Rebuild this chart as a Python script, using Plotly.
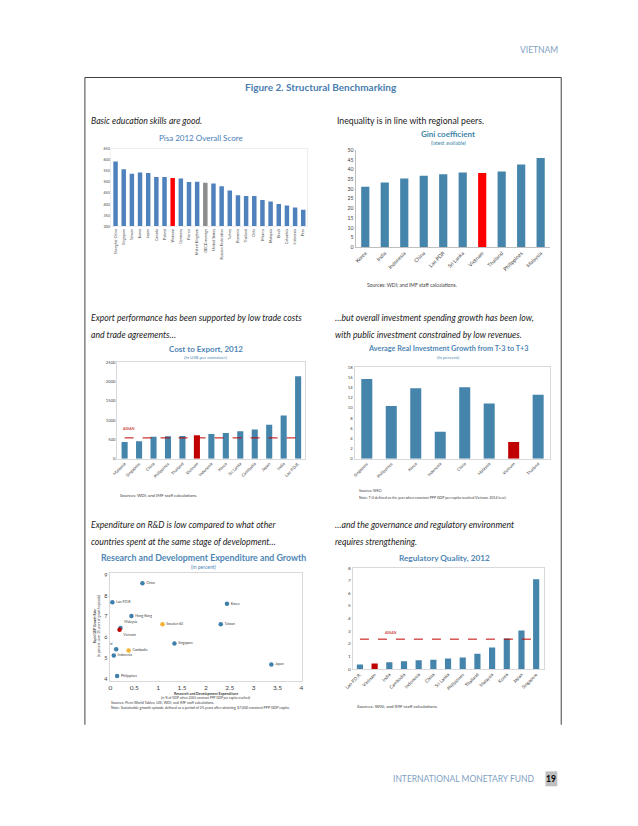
import plotly.graph_objects as go

W, H = 638, 826
OFF = 8                      # default body margin of the html page
FW, FH = W - OFF, H - OFF    # figure size so the page does not overflow
def px(x): return (x - OFF) / FW
def py(y): return 1 - (y - OFF) / FH

# ---------------- data ----------------
pisa_countries = ["Shanghai-China", "Singapore", "Taiwan", "Korea", "Japan", "Canada", "Poland",
                  "Vietnam", "Germany", "France", "United Kingdom", "OECD average", "United States",
                  "Russian Federation", "Turkey", "Romania", "Thailand", "Chile", "Mexico", "Malaysia",
                  "Brazil", "Colombia", "Indonesia", "Peru"]
pisa_scores = [593, 558, 538, 544, 541, 523, 523, 519, 517, 501, 502, 497, 494, 482, 462, 441,
               437, 437, 419, 413, 401, 394, 385, 375]
pisa_ticks = [300, 350, 400, 450, 500, 550, 600, 650]

gini_countries = ["Korea", "India", "Indonesia", "China", "Lao PDR", "Sri Lanka", "Vietnam",
                  "Thailand", "Philippines", "Malaysia"]
gini_values = [31.1, 33.3, 35.3, 36.7, 37.5, 38.4, 38.2, 38.9, 42.5, 45.9]

export_countries = ["Malaysia", "Singapore", "China", "Philippines", "Thailand", "Vietnam",
                    "Indonesia", "Korea", "Sri Lanka", "Cambodia", "Japan", "India", "Lao P.D.R."]
export_costs = [435, 456, 570, 580, 590, 610, 644, 665, 715, 755, 880, 1120, 2140]
export_asean = 540

inv_countries = ["Singapore", "Philippines", "Korea", "Indonesia", "China", "Malaysia",
                 "Vietnam", "Thailand"]
inv_growth = [15.7, 10.4, 13.9, 5.3, 14.1, 10.9, 3.3, 12.6]

rd_labels = ["China", "Lao P.D.R.", "Hong Kong", "Malaysia", "Vietnam", "Korea", "Taiwan",
             "Sweden 60", "Singapore", "Thailand", "Cambodia", "Indonesia", "Japan", "Philippines"]
rd_expenditure = [0.67, 0.04, 0.44, 0.21, 0.19, 2.44, 2.31, 1.09, 1.34, 0.12, 0.38, 0.07, 3.37, 0.14]
rd_growth = [8.6, 7.69, 7.03, 6.45, 6.37, 7.61, 6.63, 6.63, 5.7, 5.43, 5.37, 5.13, 4.69, 4.14]
rd_group = ["b", "b", "b", "b", "r", "b", "b", "o", "b", "b", "o", "b", "b", "b"]

reg_countries = ["Lao P.D.R.", "Vietnam", "India", "Cambodia", "Indonesia", "China", "Sri Lanka",
                 "Philippines", "Thailand", "Malaysia", "Korea", "Japan", "Singapore"]
reg_values = [0.37, 0.45, 0.55, 0.63, 0.71, 0.74, 0.84, 0.92, 1.21, 1.71, 2.42, 3.05, 7.1]
reg_asean = 2.37

# ---------------- styling ----------------
FONT = "Lato"
BLUE_XL = "#4f81bd"
BLUE = "#4585ab"
RED = "#ff0000"
DRED = "#c00000"
GRAY = "#8c8c8c"
TITLE_C = "#4f86b5"
BORDER = "#d9d9d9"
TXT = "#404040"
HEAD = 8.7

fig = go.Figure()

def colors_for(cats, base, special):
    return [special.get(c, base) for c in cats]

# Panel 1 - PISA
fig.add_trace(go.Bar(x=pisa_countries, y=pisa_scores, width=0.55,
                     marker=dict(color=colors_for(pisa_countries, BLUE_XL,
                                                  {"Vietnam": RED, "OECD average": GRAY}), line_width=0),
                     xaxis="x", yaxis="y", showlegend=False))
# Panel 2 - Gini
fig.add_trace(go.Bar(x=gini_countries, y=gini_values, width=0.42,
                     marker=dict(color=colors_for(gini_countries, BLUE, {"Vietnam": RED}), line_width=0),
                     xaxis="x2", yaxis="y2", showlegend=False))
# Panel 3 - Cost to export
fig.add_trace(go.Bar(x=export_countries, y=export_costs, width=0.42,
                     marker=dict(color=colors_for(export_countries, BLUE, {"Vietnam": DRED}), line_width=0),
                     xaxis="x3", yaxis="y3", showlegend=False))
fig.add_trace(go.Scatter(x=[export_countries[0], export_countries[-1]], y=[export_asean, export_asean],
                         mode="lines", line=dict(color=DRED, width=1, dash="dash"),
                         xaxis="x3", yaxis="y3", showlegend=False, hoverinfo="skip"))
# Panel 4 - Investment growth
fig.add_trace(go.Bar(x=inv_countries, y=inv_growth, width=0.45,
                     marker=dict(color=colors_for(inv_countries, BLUE, {"Vietnam": DRED}), line_width=0),
                     xaxis="x4", yaxis="y4", showlegend=False))
# Panel 5 - R&D scatter
cmap = {"b": "#3f7fab", "r": DRED, "o": "#f2b233"}
rd_pos = ["middle right", "middle right", "middle right", "top right", "bottom right",
          "middle right", "middle right", "middle right", "middle right", "top left",
          "middle right", "middle right", "middle right", "middle right"]
fig.add_trace(go.Scatter(x=rd_expenditure, y=rd_growth, mode="markers+text",
                         text=rd_labels, textposition=rd_pos,
                         textfont=dict(size=3.4, color=TXT, family=FONT),
                         marker=dict(size=4.5, color=[cmap[g] for g in rd_group]),
                         xaxis="x5", yaxis="y5", showlegend=False))
# Panel 6 - Regulatory quality
fig.add_trace(go.Bar(x=reg_countries, y=reg_values, width=0.42,
                     marker=dict(color=colors_for(reg_countries, BLUE, {"Vietnam": DRED}), line_width=0),
                     xaxis="x6", yaxis="y6", showlegend=False))
fig.add_trace(go.Scatter(x=[reg_countries[0], reg_countries[-1]], y=[reg_asean, reg_asean],
                         mode="lines", line=dict(color=DRED, width=1, dash="dash"),
                         xaxis="x6", yaxis="y6", showlegend=False, hoverinfo="skip"))

def cat_x(domain, size, angle):
    return dict(domain=domain, type="category", tickangle=angle, showgrid=False,
                tickfont=dict(size=size, color=TXT, family=FONT), showline=True,
                linecolor=BORDER, linewidth=1, mirror=True, ticks="", zeroline=False)

def num_y(domain, rng, dtick, size, anchor, **kw):
    d = dict(domain=domain, range=rng, dtick=dtick, showgrid=False, zeroline=False,
             tickfont=dict(size=size, color=TXT, family=FONT), showline=True,
             linecolor=BORDER, linewidth=1, mirror=True, ticks="", anchor=anchor)
    d.update(kw)
    return d

fig.update_layout(
    width=FW, height=FH, margin=dict(l=0, r=0, t=0, b=0),
    paper_bgcolor="white", plot_bgcolor="white",
    font=dict(family=FONT, color=TXT),
    bargap=0.4,
    xaxis=dict(cat_x([px(104), px(303)], 3.7, -90), anchor="y", linecolor="#eeeeee"),
    yaxis=num_y([py(225), py(147)], [300, 650], 50, 3.6, "x",
                tickvals=pisa_ticks, ticktext=[str(t) for t in pisa_ticks], linecolor="#eeeeee"),
    xaxis2=dict(cat_x([px(352), px(550)], 5.2, -45), anchor="y2", mirror=False, linecolor="#bfbfbf"),
    yaxis2=num_y([py(246), py(148)], [0, 50], 5, 5.2, "x2", mirror=False, linecolor="#bfbfbf"),
    xaxis3=dict(cat_x([px(110), px(301)], 4.2, -45), anchor="y3"),
    yaxis3=num_y([py(459), py(362)], [0, 2500], 500, 4.2, "x3"),
    xaxis4=dict(cat_x([px(351), px(550)], 4.2, -45), anchor="y4"),
    yaxis4=num_y([py(459), py(367)], [0, 18], 2, 4.2, "x4"),
    xaxis5=dict(domain=[px(102), px(298)], range=[-0.02, 4.02], dtick=0.5, showgrid=False,
                zeroline=False, showline=True, linecolor=BORDER, mirror=True, anchor="y5",
                tickfont=dict(size=6.5, color=TXT, family=FONT)),
    yaxis5=num_y([py(683), py(574)], [3.9, 9.1], 1, 5.5, "x5"),
    xaxis6=dict(cat_x([px(349), px(543)], 4.6, -45), anchor="y6"),
    yaxis6=num_y([py(671), py(569)], [0, 8], 1, 4.6, "x6"),
)

ann = []
def text(x, y, t, size, color=TXT, anchor="left", bold=False, italic=False, angle=0):
    s = t
    if bold:
        s = "<b>" + s + "</b>"
    if italic:
        s = "<i>" + s + "</i>"
    ann.append(dict(x=px(x), y=py(y), xref="paper", yref="paper", text=s, showarrow=False,
                    xanchor=anchor, yanchor="middle", textangle=angle,
                    font=dict(size=size, color=color, family=FONT)))

# page header/footer
text(560, 47, "VIETNAM", 8.5, "#7f9fbf", "right")
text(317, 85, "Figure 2. Structural Benchmarking", 10, "#4a7db0", "center", bold=True)
text(388, 782, "INTERNATIONAL MONETARY FUND", 8.5, "#7f9fbf", "left")
text(551, 782, "19", 8.5, "#000000", "center", bold=True)

# headings
text(81, 118, "Basic education skills are good.", HEAD, "#222222", italic=True)
text(331, 118, "Inequality is in line with regional peers.", HEAD, "#222222")
text(81, 317, "Export performance has been supported by low trade costs", HEAD, "#222222", italic=True)
text(81, 334, "and trade agreements…", HEAD, "#222222", italic=True)
text(329, 317, "…but overall investment spending growth has been low,", HEAD, "#222222", italic=True)
text(329, 334, "with public investment constrained by low revenues.", HEAD, "#222222", italic=True)
text(81, 525, "Expenditure on R&D is low compared to what other", HEAD, "#222222", italic=True)
text(81, 542, "countries spent at the same stage of development…", HEAD, "#222222", italic=True)
text(329, 525, "…and the governance and regulatory environment", HEAD, "#222222", italic=True)
text(329, 542, "requires strengthening.", HEAD, "#222222", italic=True)

# chart titles
text(195, 136, "Pisa 2012 Overall Score", 8, "#4a7eb8", "center")
text(446, 132, "Gini coefficient", 8, "#3d85a8", "center", bold=True)
text(446, 141, "(latest available)", 5, "#3d85a8", "center")
text(200, 348, "Cost to Export, 2012", 8, TITLE_C, "center", bold=True)
text(200, 357, "(In US$ per container)", 4.5, TITLE_C, "center")
text(446, 348, "Average Real Investment Growth from T-3 to T+3", 7.3, TITLE_C, "center", bold=True)
text(446, 357, "(In percent)", 4.5, TITLE_C, "center")
text(197, 559, "Research and Development Expenditure and Growth", 8.8, TITLE_C, "center", bold=True)
text(197, 568, "(In percent)", 5, TITLE_C, "center")
text(442, 559, "Regulatory Quality, 2012", 8.2, TITLE_C, "center", bold=True)

# sources / notes
text(362, 284, "Sources: WDI; and IMF staff calculations.", 5, TXT)
text(111, 496, "Sources: WDI; and IMF staff calculations.", 4.3, TXT)
text(353, 491, "Sources: WEO", 3.6, TXT)
text(353, 498, "Note: T-0 defined as the year when constant PPP GDP per capita reached Vietnam 2014 level.", 3.6, TXT)
text(200, 696, "Research and Development Expenditure", 3.6, TXT, "center", bold=True)
text(200, 700, "(in % of GDP, when 2005 constant PPP GDP per capita reached)", 3.2, TXT, "center")
text(101, 705, "Sources: Penn World Tables; UIS; WDI; and IMF staff calculations.", 3.6, TXT)
text(101, 710, "Note: Sustainable growth episode defined as a period of 25 years after attaining $7,000 constant PPP GDP capita.", 3.6, TXT)
text(351, 709, "Sources: WGI; and IMF staff calculations.", 4.5, TXT)
text(90, 628, "<b>Rapid GDP Growth Rate</b><br>(in percent, over 25 years of growth episode)", 3.2, TXT, "center", angle=-90)

# ASEAN labels
ann.append(dict(x=0.3, y=660, xref="x3", yref="y3", text="ASEAN", showarrow=False,
                font=dict(size=3.5, color=DRED, family=FONT), xanchor="center", yanchor="bottom"))
ann.append(dict(x=2.1, y=2.5, xref="x6", yref="y6", text="ASEAN", showarrow=False,
                font=dict(size=3.5, color=DRED, family=FONT), xanchor="center", yanchor="bottom"))

fig.update_layout(annotations=ann)

shapes = [
    dict(type="line", xref="paper", yref="paper", x0=px(77), x1=px(561), y0=py(75), y1=py(75),
         line=dict(color="#404040", width=1)),
    dict(type="line", xref="paper", yref="paper", x0=px(77), x1=px(77), y0=py(75), y1=py(727),
         line=dict(color="#404040", width=1)),
    dict(type="line", xref="paper", yref="paper", x0=px(561), x1=px(561), y0=py(75), y1=py(727),
         line=dict(color="#404040", width=1)),
    dict(type="rect", xref="paper", yref="paper", x0=px(545), x1=px(557), y0=py(789), y1=py(774),
         fillcolor="#bfbfbf", line=dict(width=0), layer="below"),
]
fig.update_layout(shapes=shapes)

fig.write_html("out.html")
